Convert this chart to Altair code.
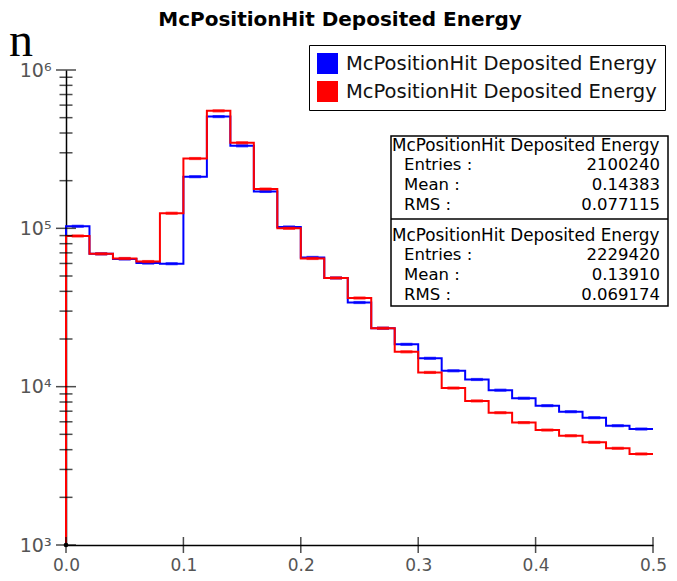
import altair as alt
import pandas as pd

# ---------------- data ----------------
bin_edges = [0.00, 0.02, 0.04, 0.06, 0.08, 0.10, 0.12, 0.14, 0.16, 0.18,
             0.20, 0.22, 0.24, 0.26, 0.28, 0.30, 0.32, 0.34, 0.36, 0.38,
             0.40, 0.42, 0.44, 0.46, 0.48]
bin_width = 0.02
blue_counts = [103000, 69000, 64000, 60300, 59800, 212000, 508000, 332000, 171000, 102000,
               65500, 48600, 34000, 23400, 18500, 15100, 12600, 11100, 9500, 8450,
               7590, 6950, 6370, 5670, 5400]
red_counts = [89500, 69000, 64500, 61700, 124500, 276000, 552000, 347000, 177000, 100000,
              64500, 48600, 36300, 23400, 16600, 12300, 9800, 8130, 6850, 5930,
              5320, 4900, 4450, 4080, 3760]
series_names = ["blue set", "red set"]
series_colors = ["#0000ff", "#ff0000"]
legend_label = "McPositionHit Deposited Energy"
title_text = "McPositionHit Deposited Energy"
stat_header = "McPositionHit Deposited Energy"
stat_labels = ["Entries :", "Mean :", "RMS :"]
stats_blue = ["2100240", "0.14383", "0.077115"]
stats_red = ["2229420", "0.13910", "0.069174"]
x_ticks = [0.0, 0.1, 0.2, 0.3, 0.4, 0.5]
y_major = [1e3, 1e4, 1e5, 1e6]
y_minor = [2e3, 3e3, 4e3, 5e3, 6e3, 7e3, 8e3, 9e3,
           2e4, 3e4, 4e4, 5e4, 6e4, 7e4, 8e4, 9e4,
           2e5, 3e5, 4e5, 5e5, 6e5, 7e5, 8e5, 9e5]
x_domain = [0.0, 0.5]
y_domain = [1e3, 1e6]

# ---------------- tables ----------------
def outline(counts):
    rows = [dict(x=x_domain[0], y=y_domain[0], k=0)]
    for i, (e, c) in enumerate(zip(bin_edges, counts)):
        rows.append(dict(x=e, y=c, k=i + 1))
    rows.append(dict(x=x_domain[1], y=counts[-1], k=len(counts) + 1))
    return pd.DataFrame(rows)

def centers(counts):
    return pd.DataFrame({"x": [e + bin_width / 2 for e in bin_edges], "y": counts})

xs = alt.Scale(domain=x_domain, nice=False, zero=False)
ys = alt.Scale(type="log", domain=y_domain, nice=False)
cs = alt.Scale(domain=series_names, range=series_colors)

legend = alt.Legend(
    title=None, orient="none", legendX=243, legendY=-25,
    symbolType="square", symbolSize=440, symbolStrokeWidth=0, symbolOpacity=1,
    labelFontSize=19.5, labelFont="DejaVu Sans", labelColor="#111",
    labelExpr=f"'{legend_label}'", labelLimit=500, labelOffset=8,
    padding=8, rowPadding=7, strokeColor="black", fillColor="white",
)

x_enc = alt.X("x:Q", scale=xs, title=None,
              axis=alt.Axis(values=x_ticks, format=".1f", labelFontSize=17, labelPadding=12,
                            labelFlush=False))
y_enc = alt.Y("y:Q", scale=ys, title=None,
              axis=alt.Axis(values=y_major, labelFontSize=19, labelPadding=15,
                            labelExpr="'10' + ['⁰','¹','²','³','⁴','⁵','⁶'][round(log(datum.value)/LN10)]"))

layers = []
for name, counts, col in zip(series_names, [blue_counts, red_counts], series_colors):
    layers.append(
        alt.Chart(outline(counts)).mark_line(interpolate="step-after", strokeWidth=2, color=col)
        .encode(x=x_enc, y=y_enc, order="k:Q")
    )
    layers.append(
        alt.Chart(centers(counts)).mark_tick(orient="horizontal", size=12, thickness=3.2, color=col)
        .encode(x=alt.X("x:Q", scale=xs), y=alt.Y("y:Q", scale=ys))
    )

# legend carrier (invisible squares, legend shows filled swatches)
layers.append(alt.Chart(pd.DataFrame({"series": series_names, "x": [0.25, 0.25], "y": [1e4, 1e4]}))
              .mark_square(size=0, opacity=1, filled=True)
              .encode(x=alt.X("x:Q", scale=xs), y=alt.Y("y:Q", scale=ys),
                      color=alt.Color("series:N", scale=cs, legend=legend)))

# axis cross ticks
layers.append(alt.Chart(pd.DataFrame({"y": y_major, "x": [0.0] * len(y_major)}))
              .mark_tick(orient="horizontal", size=20, thickness=1.5, color="black")
              .encode(x=alt.X("x:Q", scale=xs), y=alt.Y("y:Q", scale=ys)))
layers.append(alt.Chart(pd.DataFrame({"y": y_minor, "x": [0.0] * len(y_minor)}))
              .mark_tick(orient="horizontal", size=13, thickness=1.5, color="black")
              .encode(x=alt.X("x:Q", scale=xs), y=alt.Y("y:Q", scale=ys)))
layers.append(alt.Chart(pd.DataFrame({"x": x_ticks, "y": [y_domain[0]] * len(x_ticks)}))
              .mark_tick(orient="vertical", size=16, thickness=1.5, color="black")
              .encode(x=alt.X("x:Q", scale=xs), y=alt.Y("y:Q", scale=ys)))
layers.append(alt.Chart(pd.DataFrame({"x": [x_domain[0]], "y": [y_domain[0]]}))
              .mark_circle(size=22, color="black", opacity=1)
              .encode(x=alt.X("x:Q", scale=xs), y=alt.Y("y:Q", scale=ys)))

# stats box
one = pd.DataFrame({"a": [0]})
layers.append(alt.Chart(one).mark_rect(fill="white", stroke="black", strokeWidth=1.5)
              .encode(x=alt.value(325), x2=alt.value(602), y=alt.value(66), y2=alt.value(236)))
layers.append(alt.Chart(one).mark_rule(color="black", strokeWidth=1.5)
              .encode(x=alt.value(325), x2=alt.value(602), y=alt.value(149)))
for j, vals in enumerate([stats_blue, stats_red]):
    base = 76 + j * 90
    layers.append(alt.Chart(pd.DataFrame({"t": [stat_header]}))
                  .mark_text(align="left", baseline="middle", fontSize=16.8, font="DejaVu Sans", color="black")
                  .encode(text="t:N", x=alt.value(326), y=alt.value(base)))
    for i, (lab, v) in enumerate(zip(stat_labels, vals)):
        yy = base + 19 + 20 * i
        layers.append(alt.Chart(pd.DataFrame({"t": [lab]}))
                      .mark_text(align="left", baseline="middle", fontSize=16.5, font="DejaVu Sans", color="black")
                      .encode(text="t:N", x=alt.value(338), y=alt.value(yy)))
        layers.append(alt.Chart(pd.DataFrame({"t": [v]}))
                      .mark_text(align="right", baseline="middle", fontSize=16.5, font="DejaVu Sans", color="black")
                      .encode(text="t:N", x=alt.value(594), y=alt.value(yy)))

# chart title
layers.append(alt.Chart(pd.DataFrame({"t": [title_text]}))
              .mark_text(align="center", baseline="middle", fontSize=20, font="DejaVu Sans",
                         fontWeight="bold", color="black")
              .encode(text="t:N", x=alt.value(274), y=alt.value(-50)))

# stray glyph at the top-left
layers.append(alt.Chart(pd.DataFrame({"t": ["n"]}))
              .mark_text(align="left", baseline="alphabetic", fontSize=48, font="Liberation Serif", color="black")
              .encode(text="t:N", x=alt.value(-57), y=alt.value(-14)))

chart = alt.layer(*layers).properties(
    width=587, height=475,
    autosize=alt.AutoSizeParams(type="none"),
    padding={"left": 58, "top": 62, "right": 16, "bottom": 28},
).configure_axis(
    grid=False, ticks=False, domainColor="black", domainWidth=1.5,
    labelColor="#555", labelFont="DejaVu Sans",
).configure_view(stroke=None)

chart.save("out.html", embed_options={"renderer": "svg", "actions": False})
